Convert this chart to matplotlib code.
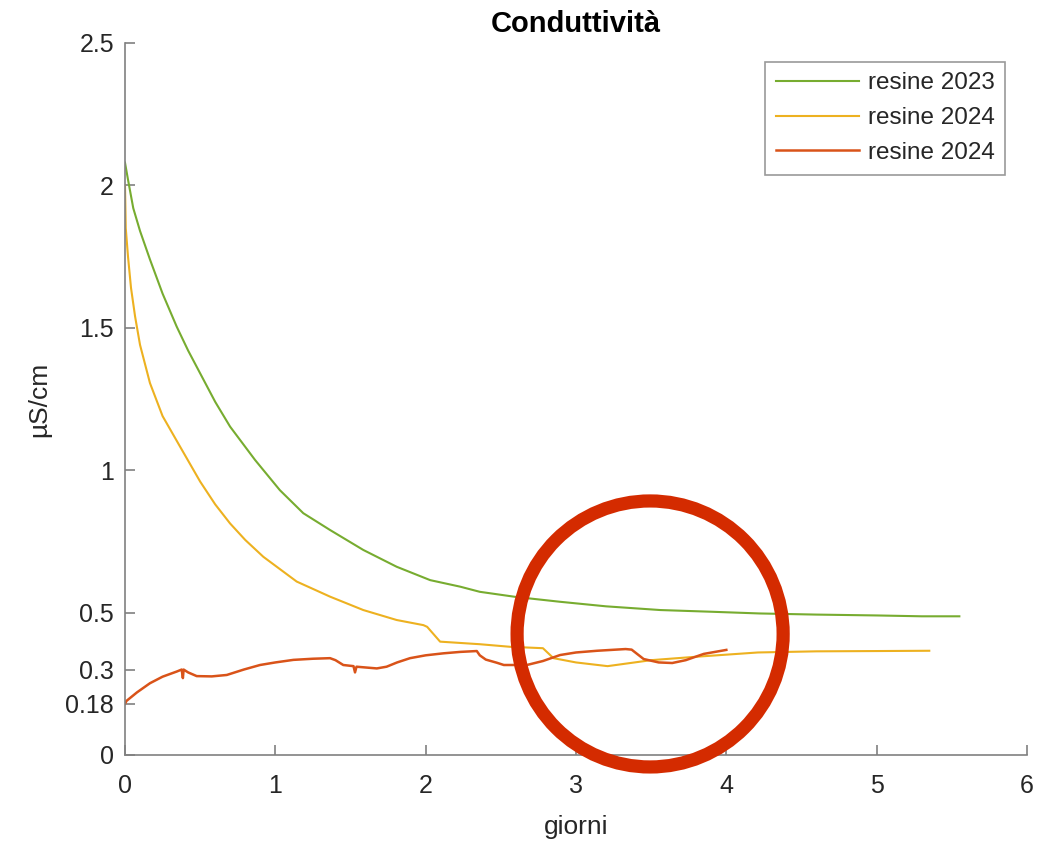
import matplotlib
matplotlib.use('Agg')
import matplotlib.pyplot as plt
from matplotlib.patches import Ellipse

plt.rcParams['font.family'] = ['Liberation Sans', 'DejaVu Sans']

# values
green_x = [0, 0.02, 0.055, 0.1, 0.166, 0.25, 0.344, 0.42, 0.5, 0.6, 0.699, 0.865, 1.03, 1.186,
           1.364, 1.585, 1.807, 2.03, 2.23, 2.36, 2.6, 2.894, 3.2, 3.56, 3.9, 4.22,
           4.6, 5.0, 5.3, 5.55]
green_y = [2.08, 2.02, 1.92, 1.84, 1.74, 1.62, 1.504, 1.42, 1.34, 1.24, 1.153, 1.036, 0.93, 0.849,
           0.79, 0.72, 0.661, 0.614, 0.591, 0.573, 0.555, 0.538, 0.522, 0.509, 0.503, 0.497,
           0.493, 0.49, 0.487, 0.487]

yellow_x = [0, 0.005, 0.02, 0.04, 0.067, 0.1, 0.166, 0.25, 0.366, 0.5, 0.6, 0.699, 0.8, 0.92,
            1.142, 1.364, 1.585, 1.807, 1.985, 2.01, 2.096, 2.36, 2.56, 2.78, 2.85, 3.0,
            3.21, 3.5, 3.8, 4.21, 4.6, 5.0, 5.35]
yellow_y = [2.0, 1.85, 1.75, 1.64, 1.54, 1.44, 1.306, 1.19, 1.083, 0.96, 0.88, 0.813, 0.755, 0.696,
            0.609, 0.556, 0.509, 0.474, 0.456, 0.45, 0.398, 0.389, 0.38, 0.375, 0.34, 0.325,
            0.312, 0.333, 0.345, 0.36, 0.364, 0.365, 0.366]

red_x = [0, 0.01, 0.08, 0.166, 0.25, 0.344, 0.377, 0.385, 0.39, 0.42, 0.477, 0.577,
         0.677, 0.79, 0.898, 1.0, 1.12, 1.25, 1.364, 1.4, 1.452, 1.52, 1.53, 1.54,
         1.675, 1.74, 1.81, 1.896, 2.0, 2.118, 2.23, 2.34, 2.36, 2.40, 2.473, 2.52,
         2.673, 2.78, 2.894, 3.0, 3.14, 3.33, 3.37, 3.45, 3.55, 3.64, 3.73, 3.85, 4.0]
red_y = [0.18, 0.19, 0.22, 0.252, 0.275, 0.293, 0.30, 0.27, 0.30, 0.29, 0.277, 0.276,
         0.281, 0.30, 0.316, 0.325, 0.334, 0.338, 0.34, 0.333, 0.316, 0.312, 0.29, 0.31,
         0.304, 0.31, 0.325, 0.34, 0.35, 0.357, 0.362, 0.365, 0.35, 0.335, 0.324, 0.316,
         0.316, 0.33, 0.351, 0.36, 0.366, 0.372, 0.37, 0.337, 0.325, 0.323, 0.333, 0.355, 0.369]

labels = ['resine 2023', 'resine 2024', 'resine 2024']
yticks = [0, 0.18, 0.3, 0.5, 1, 1.5, 2, 2.5]
xticks = [0, 1, 2, 3, 4, 5, 6]

txt = '#262626'
axc = '#808080'

fig = plt.figure(figsize=(10.56, 8.42), dpi=100)
ax = fig.add_axes([125/1056, 1-755/842, 902/1056, 712/842])

ax.plot(green_x, green_y, color='#77AC30', lw=1.5, label=labels[0])
ax.plot(yellow_x, yellow_y, color='#EDB120', lw=1.5, label=labels[1])
ax.plot(red_x, red_y, color='#D95319', lw=1.8, label=labels[2])

ax.set_xlim(0, 6)
ax.set_ylim(0, 2.5)
ax.set_xticks(xticks)
ax.set_xticklabels([str(v) for v in xticks])
ax.set_yticks(yticks)
ax.set_yticklabels(['0', '0.18', '0.3', '0.5', '1', '1.5', '2', '2.5'])

for s in ['top', 'right']:
    ax.spines[s].set_visible(False)
for s in ['left', 'bottom']:
    ax.spines[s].set_color(axc)
    ax.spines[s].set_linewidth(1.2)
ax.tick_params(direction='in', length=7, width=1.2, color=axc,
               labelsize=18, labelcolor=txt, pad=8)
ax.tick_params(axis='x', pad=14)

ax.set_xlabel('giorni', fontsize=19, color=txt, labelpad=12)
ax.set_ylabel('µS/cm', fontsize=19, color=txt, labelpad=10)
ax.set_title('Conduttività', fontsize=21, fontweight='bold', color='black', pad=8)

leg = ax.legend(loc='upper right', bbox_to_anchor=(0.976, 0.974), fontsize=17.5,
                frameon=True, fancybox=False, handlelength=3.4, borderpad=0.45,
                labelspacing=0.52, handletextpad=0.35, borderaxespad=0)
leg.get_frame().set_edgecolor(axc)
leg.get_frame().set_linewidth(1.2)
for t in leg.get_texts():
    t.set_color(txt)

# red circle drawn over the chart
circ = Ellipse((3.493, 0.425), width=266/150.3, height=266/284.8, fill=False,
               edgecolor='#D42B00', lw=9.5, clip_on=False, zorder=5)
ax.add_patch(circ)

fig.savefig('out.png', dpi=100)
